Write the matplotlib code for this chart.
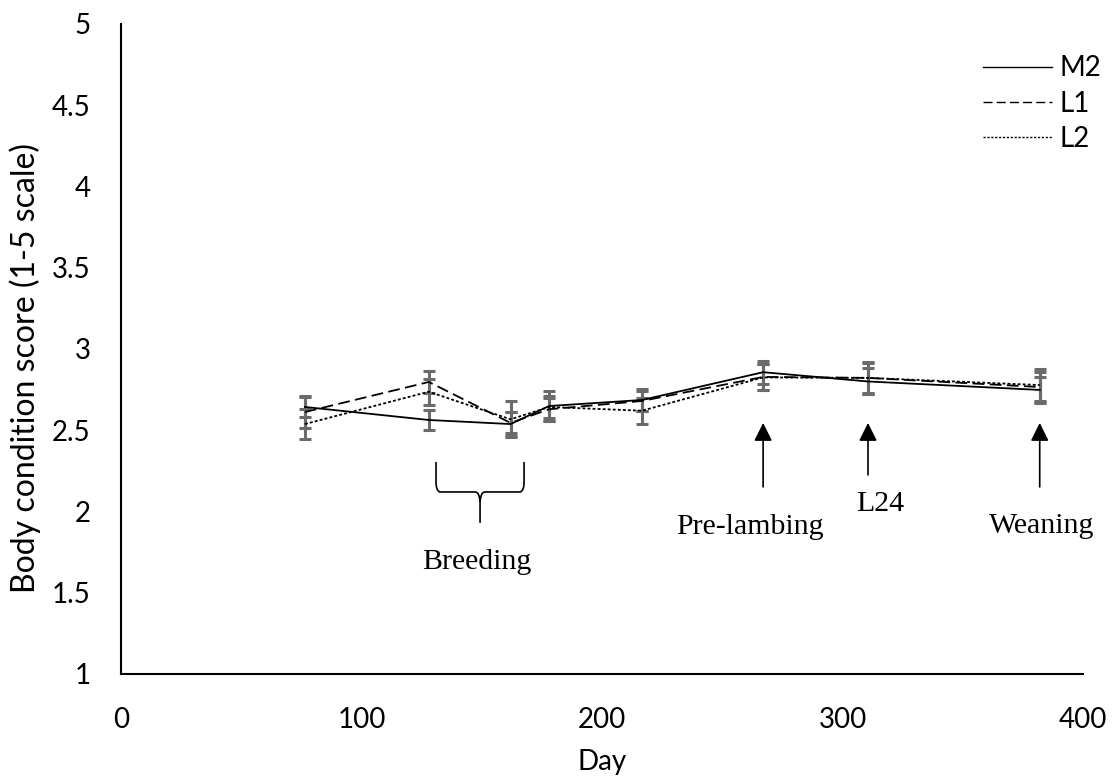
import numpy as np
import matplotlib
matplotlib.use("Agg")
import matplotlib.pyplot as plt
from matplotlib.path import Path
from matplotlib.patches import PathPatch

# sampling days and body condition score (mean, sem) per group
days = [76.5, 128, 162, 178, 216.6, 267, 310.6, 382]
m2 = [2.643, 2.563, 2.538, 2.649, 2.686, 2.857, 2.800, 2.748]
m2_err = [0.06, 0.062, 0.072, 0.09, 0.065, 0.07, 0.08, 0.08]
l1 = [2.612, 2.797, 2.545, 2.629, 2.680, 2.828, 2.822, 2.766]
l1_err = [0.10, 0.070, 0.065, 0.07, 0.06, 0.08, 0.10, 0.09]
l2 = [2.538, 2.737, 2.567, 2.643, 2.620, 2.825, 2.822, 2.778]
l2_err = [0.09, 0.080, 0.11, 0.07, 0.08, 0.08, 0.09, 0.10]

events = ["Pre-lambing", "L24", "Weaning"]
event_days = [267, 310.6, 382]

plt.rcParams['font.family'] = ['Lato', 'DejaVu Sans']

fig = plt.figure(figsize=(11.18, 7.78), dpi=100)
ax = fig.add_axes([0.1082, 0.1337, 0.9687 - 0.1082, 0.9692 - 0.1337])

err_kw = dict(fmt='none', ecolor='#6b6b6b', elinewidth=2.2, capsize=4, capthick=2.2)
ax.errorbar(days, m2, yerr=m2_err, **err_kw)
ax.errorbar(days, l1, yerr=l1_err, **err_kw)
ax.errorbar(days, l2, yerr=l2_err, **err_kw)
ax.plot(days, m2, color='black', lw=1.3, ls='-', label='M2')
ax.plot(days, l1, color='black', lw=1.3, dashes=(6.5, 3), label='L1')
ax.plot(days, l2, color='black', lw=1.3, dashes=(1.6, 1.2), label='L2')

ax.set_xlim(0, 400)
ax.set_ylim(1, 5)
ax.set_xticks([0, 100, 200, 300, 400])
ax.set_yticks([1, 1.5, 2, 2.5, 3, 3.5, 4, 4.5, 5])
ax.set_yticklabels(['1', '1.5', '2', '2.5', '3', '3.5', '4', '4.5', '5'])
ax.tick_params(axis='both', length=0, labelsize=20)
ax.tick_params(axis='y', pad=22)
ax.tick_params(axis='x', pad=23.5)
for s in ['top', 'right']:
    ax.spines[s].set_visible(False)
ax.spines['left'].set_linewidth(1.5)
ax.spines['bottom'].set_linewidth(1.5)

ax.set_xlabel('Day', fontsize=20, va='center')
ax.xaxis.set_label_coords(0.5, -0.1354)
ax.set_ylabel('Body condition score (1-5 scale)', fontsize=23, va='center')
ax.yaxis.set_label_coords(-0.0998, 0.471)

leg = ax.legend(loc='upper left', bbox_to_anchor=(983 / 1118, 0.929),
                bbox_transform=fig.transFigure, frameon=False, fontsize=20,
                handlelength=2.48, labelspacing=0.34, handletextpad=0.29,
                borderpad=0, borderaxespad=0)
for h in leg.legend_handles:
    h.set_linewidth(1.0)

# event arrows
tails = [2.151, 2.225, 2.151]
for d, t in zip(event_days, tails):
    ax.annotate('', xy=(d, 2.545), xytext=(d, t),
                arrowprops=dict(arrowstyle='-|>,head_width=0.55,head_length=1.1',
                                color='black', lw=1.2, shrinkA=0, shrinkB=0))

serif = dict(family=['Liberation Serif', 'DejaVu Serif'], fontsize=21.5,
             ha='center', va='center')
ax.text(261.5, 1.905, events[0], **serif)
ax.text(315.6, 2.045, events[1], **serif)
ax.text(383, 1.91, events[2], **serif)
ax.text(148, 1.69, 'Breeding', **serif)

# curly brace for the breeding period
xl, xr, xc = 131, 167.6, 149.3
top, mid, tip = 2.305, 2.12, 1.93
verts = [(xl, top), (xl, mid + 0.06), (xl, mid + 0.01), (xl + 1.5, mid),
         (xc - 2, mid), (xc - 0.3, mid), (xc, mid - 0.06), (xc, tip)]
codes = [Path.MOVETO, Path.LINETO, Path.CURVE3, Path.CURVE3,
         Path.LINETO, Path.CURVE3, Path.CURVE3, Path.LINETO]
ax.add_patch(PathPatch(Path(verts, codes), fill=False, lw=1.2, color='black'))
verts = [(xr, top), (xr, mid + 0.06), (xr, mid + 0.01), (xr - 1.5, mid),
         (xc + 2, mid), (xc + 0.3, mid), (xc, mid - 0.06)]
codes = [Path.MOVETO, Path.LINETO, Path.CURVE3, Path.CURVE3,
         Path.LINETO, Path.CURVE3, Path.CURVE3]
ax.add_patch(PathPatch(Path(verts, codes), fill=False, lw=1.2, color='black'))

fig.savefig('out.png', dpi=100)
